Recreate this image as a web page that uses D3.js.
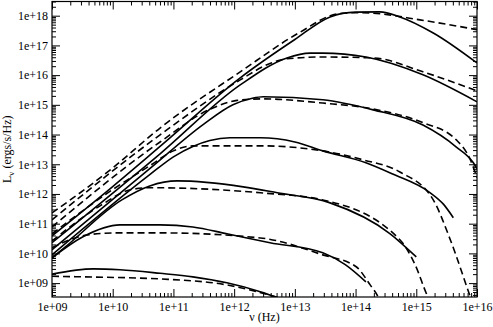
<!DOCTYPE html>
<html>
<head>
<meta charset="utf-8">
<script src="https://cdn.jsdelivr.net/npm/d3@7"></script>
<style>
  html, body { margin: 0; padding: 0; background: #fff; }
  svg { display: block; }
  svg text { font-family: "Liberation Serif", "Times New Roman", serif; }
</style>
</head>
<body>
<div id="chart"></div>
<script>
// Points are [log10 nu (Hz), log10 L_nu (ergs/s/Hz)]
const solid1 = [[9.0, 10.59], [10.0, 12.25], [10.78, 13.6], [12.1, 15.91], [13.0, 17.2], [13.58, 17.96], [14.0, 18.12], [14.4, 18.13], [14.73, 17.96], [15.28, 17.42], [16.0, 16.41]];
const dashed1 = [[9.0, 11.36], [9.96, 12.81], [10.78, 14.22], [12.1, 16.11], [13.09, 17.45], [13.7, 18.06], [14.0, 18.1], [14.24, 18.09], [15.06, 17.86], [16.0, 17.53]];

const solid2 = [[9.0, 10.36], [10.78, 13.35], [12.1, 15.67], [12.87, 16.58], [13.25, 16.74], [13.46, 16.74], [14.17, 16.61], [15.11, 16.01], [16.0, 15.1]];
const dashed2 = [[9.0, 11.13], [10.78, 13.99], [12.1, 15.84], [12.6, 16.4], [12.87, 16.55], [13.46, 16.61], [14.29, 16.58], [15.11, 16.11], [16.0, 15.47]];

const solid3 = [[9.0, 10.12], [10.61, 12.85], [11.5, 14.35], [11.98, 15.0], [12.3, 15.22], [12.48, 15.27], [13.46, 15.17], [14.29, 14.83], [15.11, 14.32], [15.66, 13.58], [15.94, 13.05], [16.0, 12.85]];
const dashed3 = [[9.0, 10.89], [10.78, 13.75], [11.6, 14.85], [12.05, 15.15], [12.48, 15.2], [13.46, 15.06], [14.29, 14.86], [15.11, 14.4], [15.66, 13.82], [15.89, 13.15], [16.0, 12.55]];

const solid4 = [[9.0, 9.95], [10.61, 12.65], [11.0, 13.25], [11.32, 13.6], [11.6, 13.8], [11.93, 13.89], [12.43, 13.89], [13.0, 13.75], [13.46, 13.45], [14.17, 13.05], [14.6, 12.68], [15.23, 12.04], [15.45, 11.65], [15.61, 11.2]];
const dashed4 = [[9.0, 10.66], [10.0, 12.15], [10.61, 12.95], [11.0, 13.45], [11.32, 13.62], [12.43, 13.62], [13.46, 13.45], [14.12, 13.15], [14.73, 12.74], [15.28, 11.8], [15.56, 10.46], [15.89, 8.54], [15.95, 8.2]];

const solid5 = [[9.0, 9.85], [9.21, 10.2], [10.15, 11.8], [10.61, 12.27], [11.06, 12.44], [12.15, 12.24], [12.71, 12.04], [13.58, 11.7], [14.57, 10.66], [15.0, 9.88]];
const dashed5 = [[9.0, 10.42], [9.79, 11.6], [10.29, 12.14], [10.61, 12.21], [12.43, 12.04], [13.46, 11.8], [14.73, 10.46], [14.98, 9.62], [15.19, 8.54], [15.25, 8.3]];

const solid6 = [[9.0, 9.85], [9.51, 10.56], [10.12, 10.96], [10.78, 10.96], [11.32, 10.89], [11.88, 10.66], [12.59, 10.36], [13.46, 10.02], [13.83, 9.62], [14.17, 9.04]];
const dashed6 = [[9.0, 10.19], [9.58, 10.62], [10.07, 10.69], [10.78, 10.69], [12.43, 10.52], [13.46, 9.95], [14.01, 9.55], [14.24, 8.94], [14.37, 8.54], [14.42, 8.3]];

const solid7 = [[9.0, 9.3], [9.68, 9.48], [10.12, 9.45], [10.78, 9.33], [11.32, 9.21], [11.88, 9.01], [12.43, 8.71], [12.8, 8.45]];
const dashed7 = [[9.0, 9.23], [9.51, 9.21], [10.78, 9.14], [11.88, 8.94], [12.38, 8.71], [12.9, 8.4]];

const solidCurves = [solid1, solid2, solid3, solid4, solid5, solid6, solid7];
const dashedCurves = [dashed1, dashed2, dashed3, dashed4, dashed5, dashed6, dashed7];

// Axis ticks
const xTickValues = [1e9, 1e10, 1e11, 1e12, 1e13, 1e14, 1e15, 1e16];
const xTickLabels = ['1e+09', '1e+10', '1e+11', '1e+12', '1e+13', '1e+14', '1e+15', '1e+16'];
const yTickValues = [1e9, 1e10, 1e11, 1e12, 1e13, 1e14, 1e15, 1e16, 1e17, 1e18];
const yTickLabels = ['1e+09', '1e+10', '1e+11', '1e+12', '1e+13', '1e+14', '1e+15', '1e+16', '1e+17', '1e+18'];

const width = 493;
const height = 327;
const margin = { top: 1.5, right: 16, bottom: 30, left: 52 };
const fontFamily = '"Liberation Serif", "Times New Roman", serif';

const svg = d3
  .select('#chart')
  .append('svg')
  .attr('width', width)
  .attr('height', height);

const x = d3
  .scaleLog()
  .domain([1e9, 1e16])
  .range([margin.left, width - margin.right]);

const y = d3
  .scaleLog()
  .domain([Math.pow(10, 8.532), Math.pow(10, 18.478)])
  .range([height - margin.bottom, margin.top]);

const x0 = margin.left;
const x1 = width - margin.right;
const y0 = height - margin.bottom;
const y1 = margin.top;

// minor ticks 2..9 in each decade
const minorTicks = (domain) => {
  const out = [];
  const lo = Math.floor(Math.log10(domain[0]));
  const hi = Math.ceil(Math.log10(domain[1]));
  for (let k = lo; k < hi; k++) {
    for (let m = 2; m <= 9; m++) {
      const v = m * Math.pow(10, k);
      if (v >= domain[0] && v <= domain[1]) out.push(v);
    }
  }
  return out;
};

const xMinor = minorTicks(x.domain());
const yMinor = minorTicks(y.domain());

const xFormat = (d) => xTickLabels[xTickValues.indexOf(d)];
const yFormat = (d) => yTickLabels[yTickValues.indexOf(d)];

// Clip for the curves
svg
  .append('defs')
  .append('clipPath')
  .attr('id', 'plot-clip')
  .append('rect')
  .attr('x', x0)
  .attr('y', y1)
  .attr('width', x1 - x0)
  .attr('height', y0 - y1);

const line = d3
  .line()
  .x((d) => x(Math.pow(10, d[0])))
  .y((d) => y(Math.pow(10, d[1])))
  .curve(d3.curveMonotoneX);

const content = svg.append('g').attr('clip-path', 'url(#plot-clip)');

content
  .selectAll('.dashed')
  .data(dashedCurves)
  .enter()
  .append('path')
  .attr('class', 'dashed')
  .attr('fill', 'none')
  .attr('stroke', '#000')
  .attr('stroke-width', 1.6)
  .attr('stroke-dasharray', '7,4')
  .attr('d', line);

content
  .selectAll('.solid')
  .data(solidCurves)
  .enter()
  .append('path')
  .attr('class', 'solid')
  .attr('fill', 'none')
  .attr('stroke', '#000')
  .attr('stroke-width', 1.6)
  .attr('d', line);

// Axes: ticks point inward on all four sides
const styleAxis = (g) => {
  g.attr('font-family', fontFamily).attr('font-size', 12);
  g.select('.domain').remove();
  g.selectAll('line').attr('stroke', '#000').attr('stroke-width', 1);
  g.selectAll('text')
    .style('font-family', fontFamily)
    .style('font-size', '12px')
    .attr('fill', '#000');
};

svg
  .append('g')
  .attr('transform', `translate(0,${y0})`)
  .call(d3.axisBottom(x).tickValues(xMinor).tickSize(-4).tickFormat(''))
  .call(styleAxis);
svg
  .append('g')
  .attr('transform', `translate(0,${y0})`)
  .call(d3.axisBottom(x).tickValues(xTickValues).tickSize(-8).tickPadding(5).tickFormat(xFormat))
  .call(styleAxis);

svg
  .append('g')
  .attr('transform', `translate(0,${y1})`)
  .call(d3.axisTop(x).tickValues(xMinor).tickSize(-4).tickFormat(''))
  .call(styleAxis);
svg
  .append('g')
  .attr('transform', `translate(0,${y1})`)
  .call(d3.axisTop(x).tickValues(xTickValues).tickSize(-8).tickFormat(''))
  .call(styleAxis);

svg
  .append('g')
  .attr('transform', `translate(${x0},0)`)
  .call(d3.axisLeft(y).tickValues(yMinor).tickSize(-4).tickFormat(''))
  .call(styleAxis);
svg
  .append('g')
  .attr('transform', `translate(${x0},0)`)
  .call(d3.axisLeft(y).tickValues(yTickValues).tickSize(-8).tickPadding(4).tickFormat(yFormat))
  .call(styleAxis);

svg
  .append('g')
  .attr('transform', `translate(${x1},0)`)
  .call(d3.axisRight(y).tickValues(yMinor).tickSize(-4).tickFormat(''))
  .call(styleAxis);
svg
  .append('g')
  .attr('transform', `translate(${x1},0)`)
  .call(d3.axisRight(y).tickValues(yTickValues).tickSize(-8).tickFormat(''))
  .call(styleAxis);

// Frame
svg
  .append('rect')
  .attr('x', x0)
  .attr('y', y1)
  .attr('width', x1 - x0)
  .attr('height', y0 - y1)
  .attr('fill', 'none')
  .attr('stroke', '#000')
  .attr('stroke-width', 1.2);

// Axis labels
svg
  .append('text')
  .attr('x', (x0 + x1) / 2)
  .attr('y', 321)
  .style('text-anchor', 'middle')
  .style('font-family', fontFamily)
  .style('font-size', '12px')
  .text('ν (Hz)');

const yLabel = svg
  .append('text')
  .attr('transform', `translate(11,${(y0 + y1) / 2}) rotate(-90)`)
  .style('text-anchor', 'middle')
  .style('font-family', fontFamily)
  .style('font-size', '12px');
yLabel.append('tspan').text('L');
yLabel.append('tspan').attr('dy', 3).style('font-size', '9px').text('ν');
yLabel.append('tspan').attr('dy', -3).text(' (ergs/s/Hz)');
</script>
</body>
</html>
